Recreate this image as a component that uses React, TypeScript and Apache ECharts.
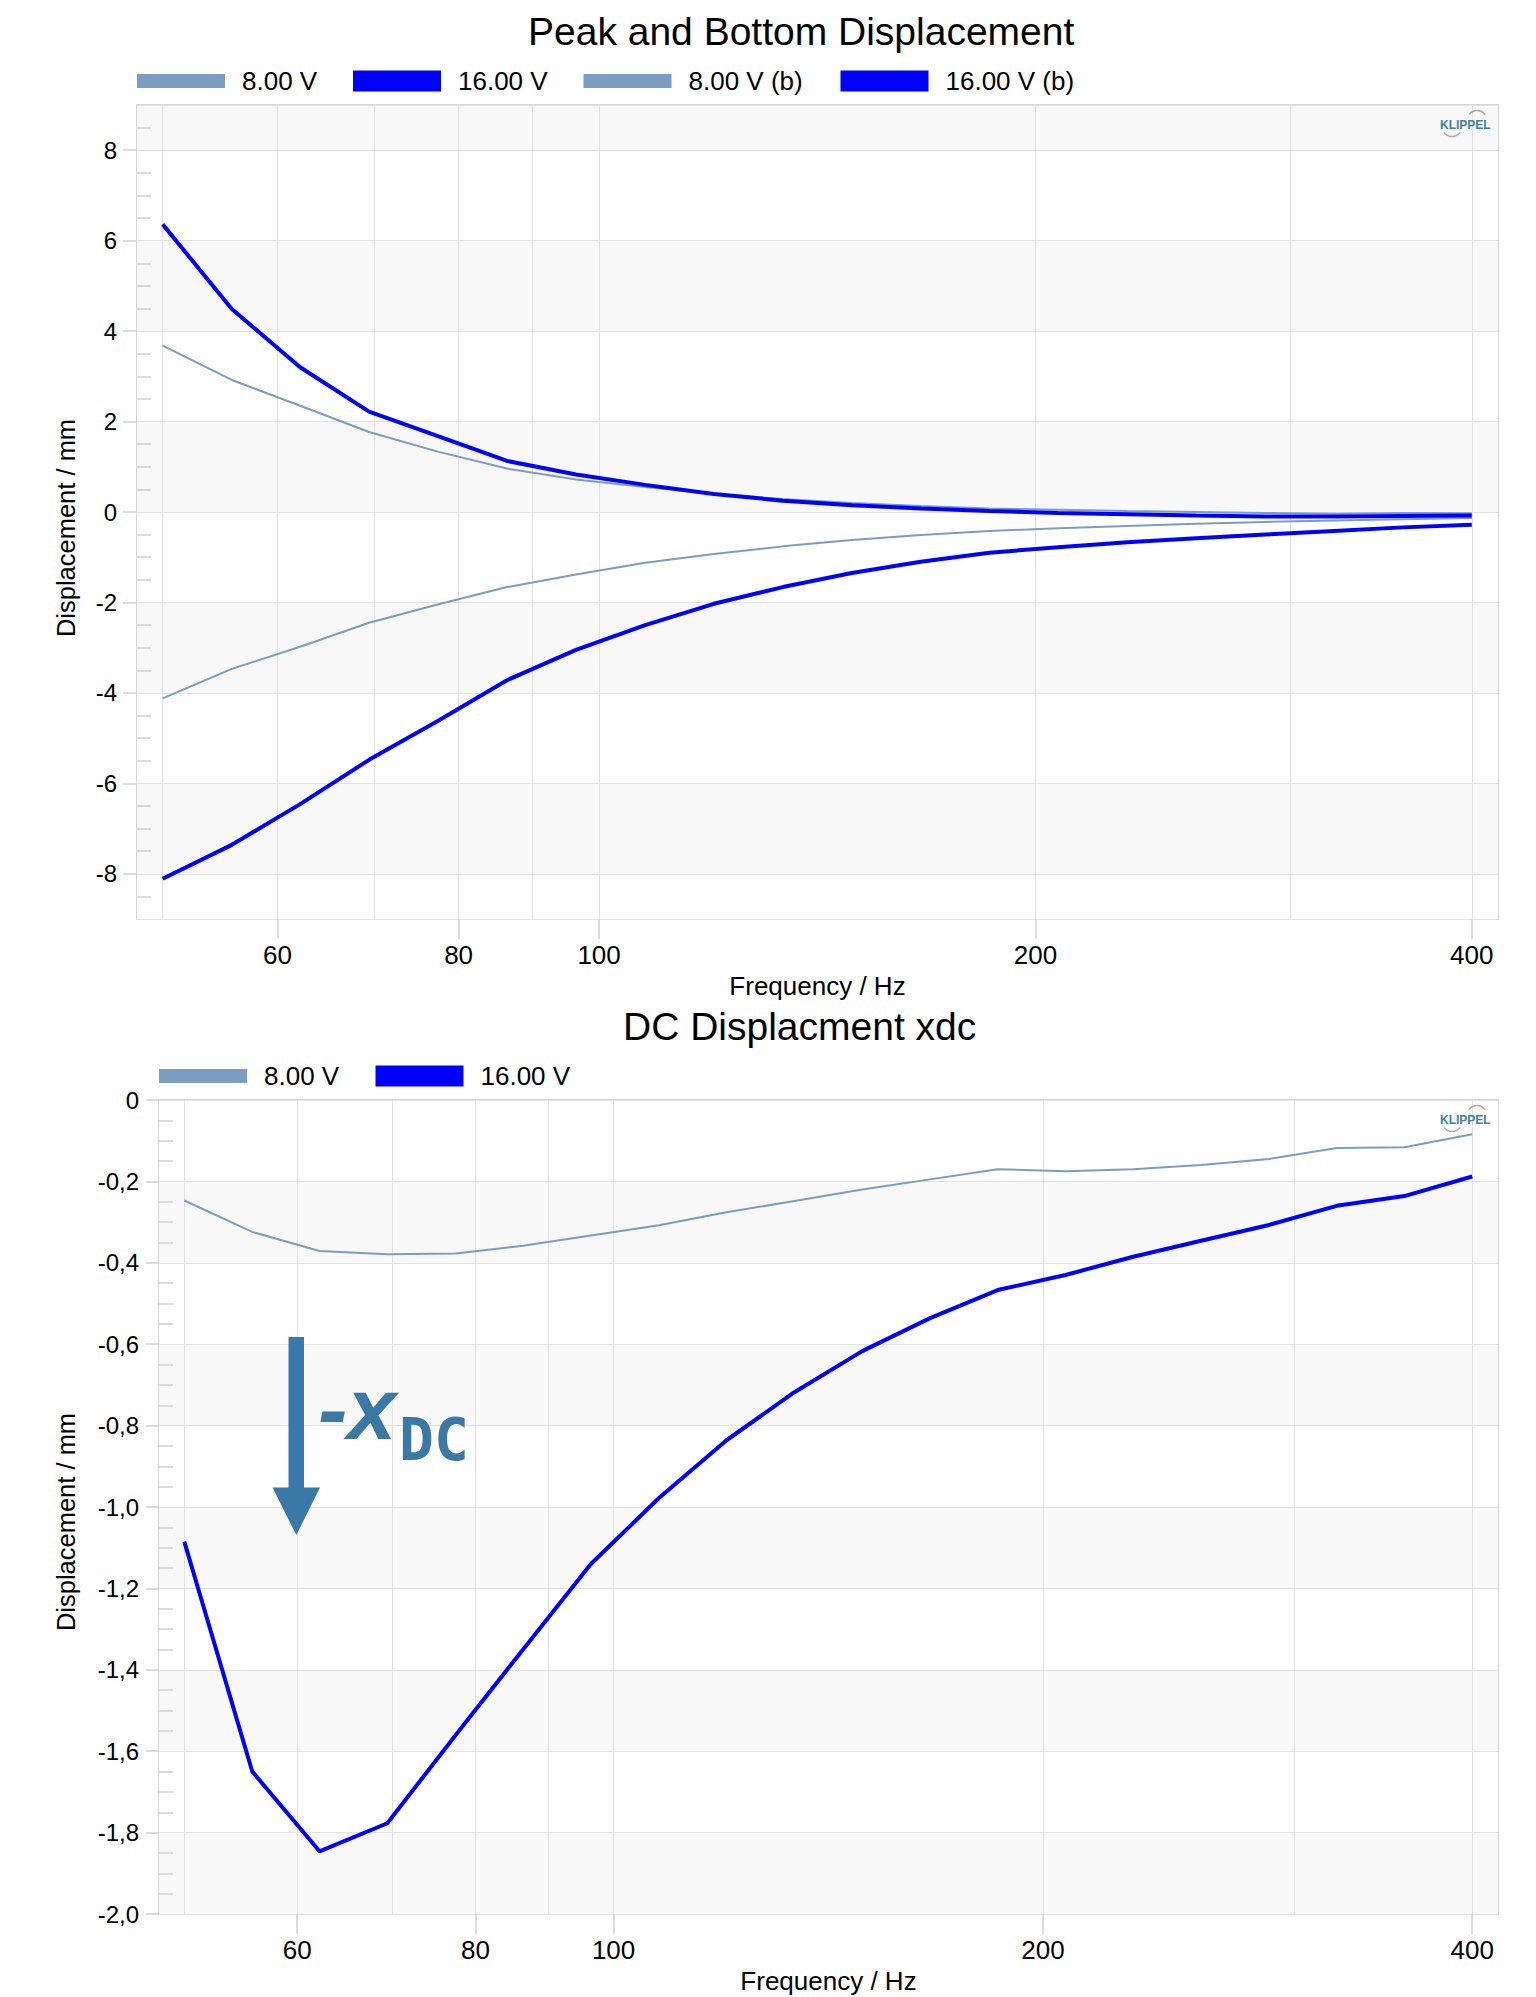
import React, { useEffect, useRef } from "react";
import * as echarts from "echarts";

// ---------- data ----------
const FREQ_HZ = [50, 55.8, 62.2, 69.4, 77.5, 86.4, 96.4, 107.6, 120, 133.9, 149.4, 166.7, 185.9, 207.4, 231.4, 258.2, 288.1, 321.4, 358.5, 400];

const PEAK_8V = [3.68, 2.92, 2.35, 1.77, 1.33, 0.96, 0.72, 0.55, 0.4, 0.29, 0.2, 0.13, 0.08, 0.05, 0.02, 0.0, -0.02, -0.04, -0.02, -0.03];
const PEAK_16V = [6.36, 4.49, 3.2, 2.22, 1.67, 1.13, 0.83, 0.6, 0.4, 0.25, 0.15, 0.08, 0.02, -0.02, -0.05, -0.08, -0.1, -0.1, -0.09, -0.08];
const BOTTOM_8V = [-4.12, -3.47, -2.98, -2.45, -2.04, -1.66, -1.38, -1.12, -0.93, -0.76, -0.62, -0.51, -0.42, -0.36, -0.31, -0.26, -0.22, -0.19, -0.16, -0.13];
const BOTTOM_16V = [-8.11, -7.36, -6.46, -5.48, -4.61, -3.72, -3.05, -2.5, -2.03, -1.66, -1.35, -1.1, -0.9, -0.78, -0.67, -0.58, -0.5, -0.42, -0.34, -0.28];

const DC_8V = [-0.247, -0.324, -0.371, -0.379, -0.377, -0.358, -0.333, -0.308, -0.276, -0.248, -0.22, -0.195, -0.17, -0.175, -0.17, -0.16, -0.145, -0.118, -0.116, -0.084];
const DC_16V = [-1.085, -1.65, -1.846, -1.777, -1.56, -1.35, -1.14, -0.978, -0.836, -0.718, -0.617, -0.536, -0.467, -0.43, -0.385, -0.346, -0.307, -0.26, -0.236, -0.188];

const GRID_FREQS = [50, 60, 70, 80, 90, 100, 200, 300, 400];
const LABEL_FREQS = [60, 80, 100, 200, 400];
const PEAK_Y_LABELS = [-8, -6, -4, -2, 0, 2, 4, 6, 8];
const X_MIN_HZ = 48;
const X_MAX_HZ = 417;

const LEGEND_TOP = ["8.00 V", "16.00 V", "8.00 V (b)", "16.00 V (b)"];
const LEGEND_BOTTOM = ["8.00 V", "16.00 V"];

// ---------- styling ----------
const GRAY = "#7c9cc0";
const BLUE = "#0000ff";
const ANNOT = "#3a78a6";
const FONT = '"Liberation Sans", Arial, Helvetica, sans-serif';
const GRID_LINE = "#e2e2e2";
const TICK_LINE = "#d0d0d0";

const TOP_GRID = { left: 137, top: 105, width: 1361, height: 814 };
const BOT_GRID = { left: 159, top: 1100, width: 1339, height: 814 };

const lg = (f: number) => Math.log10(f);

function xAxes(gridIndex: number) {
  const common = {
    type: "value",
    gridIndex,
    min: lg(X_MIN_HZ),
    max: lg(X_MAX_HZ),
    position: "bottom",
    axisLine: { show: false, onZero: false },
  };
  return [
    {
      ...common,
      axisTick: { show: false, customValues: GRID_FREQS.map(lg) },
      axisLabel: { show: false },
      splitLine: { show: true, lineStyle: { color: GRID_LINE, width: 1 } },
    },
    {
      ...common,
      axisTick: {
        show: true,
        length: 20,
        customValues: LABEL_FREQS.map(lg),
        lineStyle: { color: TICK_LINE, width: 1.5 },
      },
      axisLabel: {
        customValues: LABEL_FREQS.map(lg),
        formatter: (v: number) => String(Math.round(Math.pow(10, v))),
        margin: 23,
        fontSize: 26,
        color: "#000",
        fontFamily: FONT,
      },
      splitLine: { show: false },
      name: "Frequency / Hz",
      nameLocation: "middle",
      nameGap: 54,
      nameTextStyle: { fontSize: 26, color: "#000", fontFamily: FONT },
    },
  ];
}

const minorTick = {
  show: true,
  splitNumber: 4,
  length: 14,
  lineStyle: { color: TICK_LINE, width: 1.5 },
};

const yAxes = [
  // top main: grid lines, bands, inner minor ticks
  {
    type: "value",
    gridIndex: 0,
    min: -9,
    max: 9,
    splitNumber: 9,
    position: "left",
    axisLine: { show: false, onZero: false },
    axisTick: { show: false, inside: true },
    axisLabel: { show: false },
    minorTick,
    splitLine: { show: true, lineStyle: { color: GRID_LINE, width: 1 } },
    splitArea: { show: true, areaStyle: { color: ["#ffffff", "#f8f8f8"] } },
  },
  // top labels + outer ticks
  {
    type: "value",
    gridIndex: 0,
    min: -9,
    max: 9,
    position: "left",
    axisLine: { show: false, onZero: false },
    axisTick: { show: true, length: 14, customValues: PEAK_Y_LABELS, lineStyle: { color: TICK_LINE, width: 1.5 } },
    axisLabel: { customValues: PEAK_Y_LABELS, margin: 20, fontSize: 24, color: "#000", fontFamily: FONT },
    splitLine: { show: false },
  },
  // bottom main
  {
    type: "value",
    gridIndex: 1,
    min: -2,
    max: 0,
    interval: 0.2,
    position: "left",
    axisLine: { show: false, onZero: false },
    axisTick: { show: false, inside: true },
    axisLabel: { show: false },
    minorTick,
    splitLine: { show: true, lineStyle: { color: GRID_LINE, width: 1 } },
    splitArea: { show: true, areaStyle: { color: ["#f8f8f8", "#ffffff"] } },
  },
  // bottom labels + outer ticks
  {
    type: "value",
    gridIndex: 1,
    min: -2,
    max: 0,
    interval: 0.2,
    position: "left",
    axisLine: { show: false, onZero: false },
    axisTick: { show: true, length: 13, lineStyle: { color: TICK_LINE, width: 1.5 } },
    axisLabel: {
      margin: 20,
      fontSize: 24,
      color: "#000",
      fontFamily: FONT,
      formatter: (v: number) => (Math.abs(v) < 1e-9 ? "0" : v.toFixed(1).replace(".", ",")),
    },
    splitLine: { show: false },
  },
];

function lineSeries(name: string, values: number[], color: string, width: number, xi: number, yi: number) {
  return {
    type: "line",
    name,
    xAxisIndex: xi,
    yAxisIndex: yi,
    data: FREQ_HZ.map((f, i) => [lg(f), values[i]]),
    symbol: "none",
    showSymbol: false,
    silent: true,
    color,
    itemStyle: { color },
    lineStyle: { color, width },
    z: color === BLUE ? 4 : 3,
  };
}

function legend(name: string, left: number, centerY: number, blue: boolean) {
  return {
    data: [name],
    left,
    top: centerY - 13,
    orient: "horizontal",
    icon: "rect",
    itemWidth: 88,
    itemHeight: blue ? 21 : 14,
    padding: 0,
    selectedMode: false,
    textStyle: { fontSize: 26, color: "#000", fontFamily: FONT, padding: [0, 0, 0, 12] },
  };
}

function logo(plotTop: number) {
  return [
    {
      type: "text",
      x: 1440,
      y: plotTop + 20,
      z: 50,
      style: {
        text: "KLIPPEL",
        fontSize: 12,
        fontWeight: "bold",
        fontFamily: FONT,
        fill: "#3f7fa9",
        align: "left",
        textAlign: "left",
        verticalAlign: "middle",
        textVerticalAlign: "middle",
      },
    },
    {
      type: "arc",
      z: 50,
      shape: { cx: 1477, cy: plotTop + 15.5, r: 10, startAngle: Math.PI * 1.2, endAngle: Math.PI * 1.8 },
      style: { stroke: "#a8a8a8", lineWidth: 1.5, fill: null },
    },
    {
      type: "arc",
      z: 50,
      shape: { cx: 1452, cy: plotTop + 21.5, r: 10, startAngle: Math.PI * 0.2, endAngle: Math.PI * 0.8 },
      style: { stroke: "#a8a8a8", lineWidth: 1.5, fill: null },
    },
  ];
}

function yName(x: number, y: number) {
  return {
    type: "text",
    x,
    y,
    rotation: Math.PI / 2,
    z: 50,
    style: {
      text: "Displacement / mm",
      fontSize: 25.5,
      fontFamily: FONT,
      fill: "#000",
      align: "center",
      textAlign: "center",
      verticalAlign: "middle",
      textVerticalAlign: "middle",
    },
  };
}

const option: any = {
  animation: false,
  backgroundColor: "#ffffff",
  title: [
    {
      text: "Peak and Bottom Displacement",
      left: 528,
      top: 12,
      padding: 0,
      textStyle: { fontSize: 39, fontWeight: "normal", color: "#000", fontFamily: FONT },
    },
    {
      text: "DC Displacment xdc",
      left: 623,
      top: 1007,
      padding: 0,
      textStyle: { fontSize: 39, fontWeight: "normal", color: "#000", fontFamily: FONT },
    },
  ],
  legend: [
    legend(LEGEND_TOP[0], 137, 81, false),
    legend(LEGEND_TOP[1], 353, 81, true),
    legend(LEGEND_TOP[2], 583.5, 81, false),
    legend(LEGEND_TOP[3], 840.5, 81, true),
    legend(LEGEND_BOTTOM[0], 159, 1076, false),
    legend(LEGEND_BOTTOM[1], 375.5, 1076, true),
  ],
  grid: [
    { ...TOP_GRID, show: true, borderColor: "#d6d6d6", borderWidth: 2, backgroundColor: "transparent", containLabel: false, outerBoundsMode: "none" },
    { ...BOT_GRID, show: true, borderColor: "#d6d6d6", borderWidth: 2, backgroundColor: "transparent", containLabel: false, outerBoundsMode: "none" },
  ],
  xAxis: [...xAxes(0), ...xAxes(1)],
  yAxis: yAxes,
  series: [
    lineSeries("8.00 V", PEAK_8V, GRAY, 2, 0, 0),
    lineSeries("16.00 V", PEAK_16V, BLUE, 4, 0, 0),
    lineSeries("8.00 V (b)", BOTTOM_8V, GRAY, 2, 0, 0),
    lineSeries("16.00 V (b)", BOTTOM_16V, BLUE, 4, 0, 0),
    lineSeries("8.00 V", DC_8V, GRAY, 2, 2, 2),
    lineSeries("16.00 V", DC_16V, BLUE, 4, 2, 2),
  ],
  graphic: [
    yName(66, 528),
    yName(66, 1522),
    ...logo(105),
    ...logo(1100),
    {
      type: "rect",
      z: 60,
      shape: { x: 288.5, y: 1337, width: 15.5, height: 151 },
      style: { fill: ANNOT },
    },
    {
      type: "polygon",
      z: 60,
      shape: { points: [[272.5, 1487.5], [320, 1487.5], [296.3, 1535]] },
      style: { fill: ANNOT },
    },
    {
      type: "text",
      x: 318,
      y: 1408,
      z: 60,
      style: {
        text: "-x",
        fontSize: 88,
        fontWeight: "bold",
        fontStyle: "italic",
        fontFamily: FONT,
        fill: ANNOT,
        align: "left",
        textAlign: "left",
        verticalAlign: "middle",
        textVerticalAlign: "middle",
      },
    },
    {
      type: "text",
      x: 399,
      y: 1440,
      z: 60,
      style: {
        text: "DC",
        fontSize: 58,
        fontWeight: "bold",
        fontFamily: '"DejaVu Sans Mono", monospace',
        fill: ANNOT,
        align: "left",
        textAlign: "left",
        verticalAlign: "middle",
        textVerticalAlign: "middle",
      },
    },
  ],
};

export default function App() {
  const ref = useRef<HTMLDivElement>(null);
  useEffect(() => {
    document.body.style.margin = "0";
    document.body.style.overflow = "hidden";
    const chart = echarts.init(ref.current as HTMLDivElement, null, { renderer: "svg" });
    chart.setOption(option);
    return () => chart.dispose();
  }, []);
  return (
    <div
      ref={ref}
      style={{ position: "absolute", left: 0, top: 0, width: 1536, height: 1997, background: "#ffffff" }}
    />
  );
}
